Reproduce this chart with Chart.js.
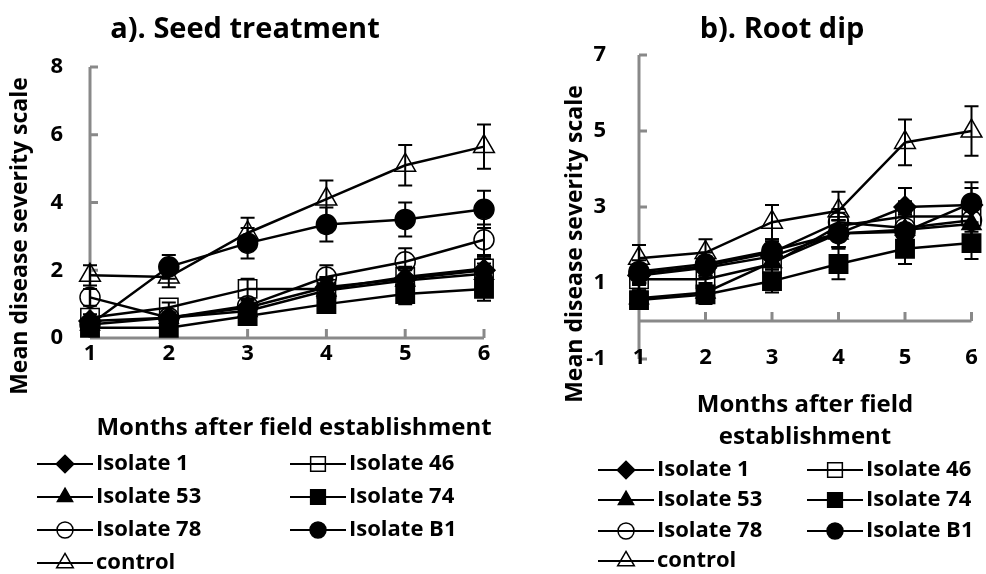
<!DOCTYPE html>
<html lang="en">
<head>
<meta charset="UTF-8">
<title>Mean disease severity scale</title>
<script src="https://cdn.jsdelivr.net/npm/chart.js@4.4.1/dist/chart.umd.min.js"></script>
<style>
  body { margin: 0; background: white; }
  #wrap { position: relative; width: 986px; height: 574px; }
  .panel { position: absolute; top: 0; height: 574px; }
  #panelA { left: 0; width: 530px; }
  #panelB { left: 530px; width: 456px; }
</style>
</head>
<body>
<div id="wrap">
  <div class="panel" id="panelA"><canvas id="seedChart"></canvas></div>
  <div class="panel" id="panelB"><canvas id="rootChart"></canvas></div>
</div>
<script>
const months = [1, 2, 3, 4, 5, 6];
const seriesNames = ['Isolate 1', 'Isolate 46', 'Isolate 53', 'Isolate 74', 'Isolate 78', 'Isolate B1', 'control'];

// a). Seed treatment - means
const seedIso1    = [0.5, 0.6, 0.9, 1.5, 1.75, 2.0];
const seedIso46   = [0.6, 0.9, 1.45, 1.45, 1.8, 2.05];
const seedIso53   = [0.4, 0.6, 0.8, 1.4, 1.7, 1.9];
const seedIso74   = [0.3, 0.3, 0.65, 1.0, 1.3, 1.45];
const seedIso78   = [1.2, 0.6, 0.95, 1.8, 2.25, 2.9];
const seedIsoB1   = [0.4, 2.1, 2.8, 3.35, 3.5, 3.8];
const seedControl = [1.85, 1.8, 3.1, 4.1, 5.1, 5.65];
// a). Seed treatment - error bars
const seedIso1Err    = [0.1, 0.1, 0.2, 0.3, 0.3, 0.35];
const seedIso46Err   = [0.1, 0.15, 0.3, 0.3, 0.3, 0.35];
const seedIso53Err   = [0.1, 0.1, 0.2, 0.3, 0.3, 0.3];
const seedIso74Err   = [0.1, 0.1, 0.15, 0.25, 0.3, 0.35];
const seedIso78Err   = [0.25, 0.15, 0.2, 0.35, 0.4, 0.45];
const seedIsoB1Err   = [0.1, 0.35, 0.45, 0.5, 0.5, 0.55];
const seedControlErr = [0.3, 0.3, 0.45, 0.55, 0.6, 0.65];

// b). Root dip - means
const rootIso1    = [1.2, 1.4, 1.7, 2.3, 3.0, 3.05];
const rootIso46   = [1.1, 1.1, 1.5, 2.5, 2.75, 2.75];
const rootIso53   = [0.6, 0.75, 1.55, 2.3, 2.4, 2.55];
const rootIso74   = [0.55, 0.7, 1.05, 1.5, 1.9, 2.05];
const rootIso78   = [1.25, 1.45, 1.8, 2.6, 2.45, 2.65];
const rootIsoB1   = [1.3, 1.5, 1.85, 2.3, 2.35, 3.1];
const rootControl = [1.65, 1.8, 2.6, 2.9, 4.7, 5.0];
// b). Root dip - error bars
const rootIso1Err    = [0.25, 0.25, 0.3, 0.35, 0.5, 0.45];
const rootIso46Err   = [0.25, 0.25, 0.3, 0.35, 0.4, 0.4];
const rootIso53Err   = [0.2, 0.25, 0.3, 0.35, 0.4, 0.4];
const rootIso74Err   = [0.2, 0.25, 0.3, 0.4, 0.4, 0.42];
const rootIso78Err   = [0.25, 0.25, 0.3, 0.35, 0.4, 0.4];
const rootIsoB1Err   = [0.3, 0.3, 0.3, 0.35, 0.4, 0.55];
const rootControlErr = [0.35, 0.35, 0.45, 0.5, 0.6, 0.65];

const seedTicks = [0, 2, 4, 6, 8];
const rootTicks = [-1, 1, 3, 5, 7];

// marker look for each series
const markers = {
  'Isolate 1':  { style: 'rectRot',  filled: true,  r: 11 },
  'Isolate 46': { style: 'rect',     filled: false, r: 13 },
  'Isolate 53': { style: 'triangle', filled: true,  r: 11 },
  'Isolate 74': { style: 'rect',     filled: true,  r: 13 },
  'Isolate 78': { style: 'circle',   filled: false, r: 10 },
  'Isolate B1': { style: 'circle',   filled: true,  r: 10 },
  'control':    { style: 'triangle', filled: false, r: 12 }
};

const FONT = '"Open Sans", Lato, sans-serif';
const AXIS_GREY = '#898989';

function makeDatasets(values, errors) {
  return seriesNames.map((name, k) => {
    const m = markers[name];
    return {
      label: name,
      data: values[k].map((v, i) => ({ x: months[i], y: v })),
      errorBars: errors[k],
      borderColor: '#000',
      borderWidth: 2.5,
      pointStyle: m.style,
      pointRadius: m.r,
      pointHoverRadius: m.r,
      pointBackgroundColor: m.filled ? '#000' : 'rgba(0,0,0,0)',
      pointBorderColor: '#000',
      pointBorderWidth: 1.5,
      tension: 0,
      clip: false
    };
  });
}

// axis lines with inside tick marks, error bars, titles and legend
const decorPlugin = {
  id: 'decor',
  beforeDatasetsDraw(chart) {
    const ctx = chart.ctx, xs = chart.scales.x, ys = chart.scales.y;
    const o = chart.options.plugins.decor;
    const ax = xs.getPixelForValue(months[0]);
    const ay = ys.getPixelForValue(0);
    ctx.save();
    ctx.strokeStyle = AXIS_GREY;
    ctx.lineWidth = 3;
    ctx.beginPath();
    ctx.moveTo(ax, ys.top);
    ctx.lineTo(ax, ys.bottom);
    ctx.moveTo(xs.left, ay);
    ctx.lineTo(xs.right, ay);
    o.yTicks.forEach(t => {
      const py = ys.getPixelForValue(t);
      ctx.moveTo(ax, py);
      ctx.lineTo(ax + 8, py);
    });
    months.forEach(m => {
      const px = xs.getPixelForValue(m);
      ctx.moveTo(px, ay);
      ctx.lineTo(px, ay - 9);
    });
    ctx.stroke();

    // error bars
    ctx.strokeStyle = '#000';
    ctx.lineWidth = 2;
    chart.data.datasets.forEach(ds => {
      ds.data.forEach((p, i) => {
        const e = ds.errorBars[i];
        const px = xs.getPixelForValue(p.x);
        const top = ys.getPixelForValue(p.y + e);
        const bot = ys.getPixelForValue(p.y - e);
        ctx.beginPath();
        ctx.moveTo(px, top); ctx.lineTo(px, bot);
        ctx.moveTo(px - 7, top); ctx.lineTo(px + 7, top);
        ctx.moveTo(px - 7, bot); ctx.lineTo(px + 7, bot);
        ctx.stroke();
      });
    });
    ctx.restore();
  },
  afterDraw(chart) {
    const ctx = chart.ctx, xs = chart.scales.x;
    const o = chart.options.plugins.decor;
    ctx.save();
    ctx.fillStyle = '#000';
    ctx.textBaseline = 'middle';
    ctx.textAlign = 'center';

    ctx.font = 'bold 29px ' + FONT;
    ctx.fillText(o.title, o.titleX, o.titleY);

    // month labels along the bottom
    ctx.font = 'bold 22px ' + FONT;
    months.forEach(m => ctx.fillText(String(m), xs.getPixelForValue(m), o.xLabelY));

    ctx.font = 'bold 24px ' + FONT;
    o.xTitle.forEach((line, i) => ctx.fillText(line, o.xTitleX, o.xTitleY + i * 32));

    ctx.font = 'bold 23px ' + FONT;
    ctx.save();
    ctx.translate(o.yTitleX, o.yTitleY);
    ctx.rotate(-Math.PI / 2);
    ctx.fillText('Mean disease severity scale', 0, 0);
    ctx.restore();

    // legend: two columns, line through the marker
    ctx.font = 'bold 22px ' + FONT;
    ctx.textAlign = 'left';
    seriesNames.forEach((name, k) => {
      const col = k % 2, row = Math.floor(k / 2);
      const x0 = o.legendCols[col];
      const y = o.legendRows[row];
      const m = markers[name];
      ctx.strokeStyle = '#000';
      ctx.lineWidth = 2;
      ctx.beginPath();
      ctx.moveTo(x0, y);
      ctx.lineTo(x0 + 56, y);
      ctx.stroke();
      ctx.fillStyle = m.filled ? '#000' : 'rgba(0,0,0,0)';
      ctx.lineWidth = 1.5;
      Chart.helpers.drawPoint(ctx, { pointStyle: m.style, radius: m.r * 0.8, rotation: 0, borderWidth: 1.5 }, x0 + 28, y);
      ctx.fillStyle = '#000';
      ctx.fillText(name, x0 + 59, y);
    });
    ctx.restore();
  }
};

function buildChart(id, values, errors, p) {
  return new Chart(document.getElementById(id), {
    type: 'line',
    data: { datasets: makeDatasets(values, errors) },
    plugins: [decorPlugin],
    options: {
      responsive: true,
      maintainAspectRatio: false,
      animation: false,
      layout: { padding: p.padding },
      plugins: {
        legend: { display: false },
        tooltip: { enabled: false },
        decor: p.decor
      },
      scales: {
        x: {
          type: 'linear',
          min: 1, max: 6,
          afterFit: s => { s.height = p.xHeight; },
          grid: { display: false, drawTicks: false },
          border: { display: false },
          ticks: { display: false, stepSize: 1 }
        },
        y: {
          min: p.yMin, max: p.yMax,
          afterFit: s => { s.width = p.yWidth; },
          afterBuildTicks: s => { s.ticks = p.yTicks.map(v => ({ value: v })); },
          grid: { display: false, drawTicks: false },
          border: { display: false },
          ticks: {
            padding: p.yPad, color: '#000',
            font: { family: FONT, size: 22, weight: 'bold' }
          }
        }
      }
    }
  });
}

buildChart('seedChart',
  [seedIso1, seedIso46, seedIso53, seedIso74, seedIso78, seedIsoB1, seedControl],
  [seedIso1Err, seedIso46Err, seedIso53Err, seedIso74Err, seedIso78Err, seedIsoB1Err, seedControlErr],
  {
    padding: { left: 0, right: 46, top: 67, bottom: 206 },
    xHeight: 30, yWidth: 90, yPad: 27,
    yMin: 0, yMax: 8, yTicks: seedTicks,
    decor: {
      yTicks: seedTicks, xLabelY: 354,
      title: 'a). Seed treatment', titleX: 245, titleY: 30,
      xTitle: ['Months after field establishment'], xTitleX: 294, xTitleY: 428,
      yTitleX: 20, yTitleY: 236,
      legendCols: [37, 290], legendRows: [464, 497, 530, 563]
    }
  });

buildChart('rootChart',
  [rootIso1, rootIso46, rootIso53, rootIso74, rootIso78, rootIsoB1, rootControl],
  [rootIso1Err, rootIso46Err, rootIso53Err, rootIso74Err, rootIso78Err, rootIsoB1Err, rootControlErr],
  {
    padding: { left: 0, right: 10, top: 55, bottom: 195 },
    xHeight: 20, yWidth: 109, yPad: 33,
    yMin: -1, yMax: 7, yTicks: rootTicks,
    decor: {
      yTicks: rootTicks, xLabelY: 358,
      title: 'b). Root dip', titleX: 252, titleY: 30,
      xTitle: ['Months after field', 'establishment'], xTitleX: 275, xTitleY: 405,
      yTitleX: 45, yTitleY: 244,
      legendCols: [68, 277], legendRows: [470, 500, 531, 561]
    }
  });
</script>
</body>
</html>
